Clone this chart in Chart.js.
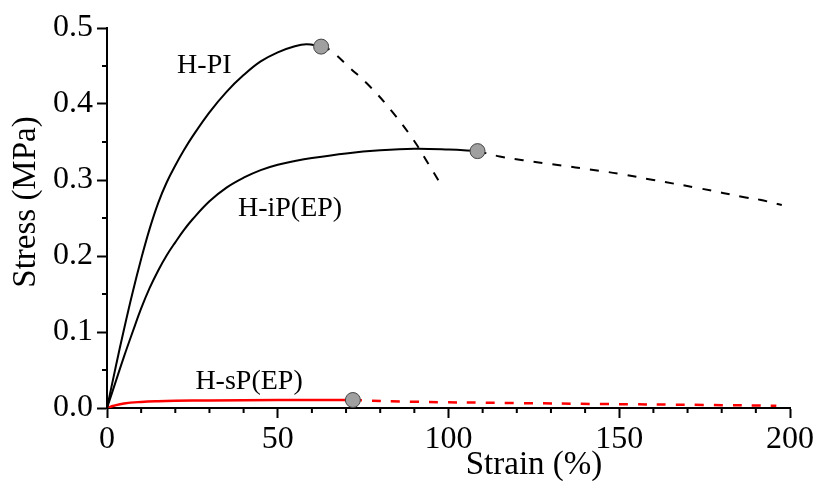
<!DOCTYPE html>
<html>
<head>
<meta charset="utf-8">
<script src="https://cdn.jsdelivr.net/npm/chart.js@4.4.1/dist/chart.umd.min.js"></script>
<style>
  html, body { margin: 0; padding: 0; background: #fff; }
  canvas { display: block; }
</style>
</head>
<body>
<canvas id="stressChart" width="816" height="481"></canvas>
<script>
// H-PI, solid part up to break point, then dashed
var hpiStrain = [0, 2.5, 5, 7.5, 10, 12.5, 15, 17.5, 20, 22.5, 25, 30, 35, 40, 45, 50, 55, 58.5, 62.7];
var hpiStress = [0, 0.053, 0.104, 0.152, 0.196, 0.236, 0.270, 0.297, 0.319, 0.339, 0.357, 0.389, 0.416, 0.438, 0.456, 0.468, 0.476, 0.4785, 0.4755];
var hpiDashStrain = [62.7, 65.3, 71, 77, 83.5, 89.7, 94, 98.2];
var hpiDashStress = [0.4755, 0.471, 0.448, 0.423, 0.39, 0.353, 0.322, 0.291];

// H-iP(EP)
var hipStrain = [0, 2.5, 5, 7.5, 10, 12.5, 15, 17.5, 20, 22.5, 25, 30, 35, 40, 45, 50, 55, 60, 70, 80, 90, 100, 108.5];
var hipStress = [0, 0.034, 0.068, 0.100, 0.131, 0.158, 0.181, 0.201, 0.218, 0.234, 0.248, 0.272, 0.290, 0.303, 0.313, 0.320, 0.325, 0.329, 0.335, 0.339, 0.341, 0.340, 0.338];
var hipDashStrain = [108.5, 115, 121.8, 130, 144.4, 150.2, 160, 173.6, 187, 191.2, 197.6];
var hipDashStress = [0.338, 0.331, 0.326, 0.321, 0.312, 0.308, 0.300, 0.289, 0.277, 0.274, 0.267];

// H-sP(EP)
var hspStrain = [0, 2, 5, 10, 15, 20, 30, 50, 72];
var hspStress = [0, 0.003, 0.006, 0.008, 0.009, 0.0095, 0.010, 0.0105, 0.0105];
var hspDashStrain = [72, 88.7, 120, 144, 175, 196];
var hspDashStress = [0.0105, 0.0083, 0.0065, 0.0053, 0.004, 0.003];

// break points (circles)
var breakStrain = [62.7, 108.5, 72];
var breakStress = [0.4755, 0.338, 0.0105];

// curve labels
var curveNames = ["H-PI", "H-iP(EP)", "H-sP(EP)"];
var labelStrain = [28.5, 53.6, 41.6];
var labelStress = [0.451, 0.2625, 0.035];

var xTicks = [0, 50, 100, 150, 200];
var yTicks = [0.0, 0.1, 0.2, 0.3, 0.4, 0.5];

function pts(xs, ys) {
  return xs.map(function(x, i) { return { x: x, y: ys[i] }; });
}

var serif = "'Liberation Serif', 'Times New Roman', serif";

function lineSet(data, color, dashed, width) {
  return {
    type: 'line',
    data: data,
    borderColor: color,
    borderWidth: width,
    borderDash: dashed ? [9, 10] : [],
    pointRadius: 0,
    fill: false,
    tension: 0.4
  };
}

// minor ticks, axis titles and curve labels
var extras = {
  id: 'extras',
  afterDraw: function(chart) {
    var ctx = chart.ctx;
    var xs = chart.scales.x, ys = chart.scales.y;
    var area = chart.chartArea;
    ctx.save();
    ctx.strokeStyle = '#000';
    ctx.lineWidth = 2;
    ctx.beginPath();
    for (var v = 10; v < 200; v += 10) {
      if (v % 50 === 0) continue;
      var px = xs.getPixelForValue(v);
      ctx.moveTo(px, area.bottom);
      ctx.lineTo(px, area.bottom + 5);
    }
    for (var k = 0; k < 5; k++) {
      var py = ys.getPixelForValue(0.05 + k * 0.1);
      ctx.moveTo(area.left, py);
      ctx.lineTo(area.left - 5, py);
    }
    ctx.stroke();

    ctx.fillStyle = '#000';
    ctx.textAlign = 'center';
    ctx.textBaseline = 'middle';
    ctx.font = '28px ' + serif;
    for (var i = 0; i < curveNames.length; i++) {
      ctx.fillText(curveNames[i], xs.getPixelForValue(labelStrain[i]), ys.getPixelForValue(labelStress[i]));
    }

    ctx.font = '33px ' + serif;
    ctx.fillText('Strain (%)', 534, 465);
    ctx.translate(26, 202);
    ctx.rotate(-Math.PI / 2);
    ctx.fillText('Stress (MPa)', 0, 0);
    ctx.restore();
  }
};

new Chart(document.getElementById('stressChart'), {
  type: 'line',
  data: {
    datasets: [
      {
        type: 'scatter',
        data: pts(breakStrain, breakStress),
        pointRadius: 7.5,
        pointBackgroundColor: '#a0a0a0',
        pointBorderColor: '#444',
        pointBorderWidth: 1,
        showLine: false,
        order: -1
      },
      lineSet(pts(hpiStrain, hpiStress), '#000', false, 2),
      lineSet(pts(hpiDashStrain, hpiDashStress), '#000', true, 2),
      lineSet(pts(hipStrain, hipStress), '#000', false, 2),
      lineSet(pts(hipDashStrain, hipDashStress), '#000', true, 2),
      lineSet(pts(hspStrain, hspStress), '#ff0000', false, 2.5),
      lineSet(pts(hspDashStrain, hspDashStress), '#ff0000', true, 2.5)
    ]
  },
  options: {
    responsive: false,
    animation: false,
    layout: { padding: { left: 0, right: 26, top: 28, bottom: 0 } },
    plugins: { legend: { display: false }, tooltip: { enabled: false } },
    scales: {
      x: {
        type: 'linear',
        min: 0,
        max: 200,
        afterFit: function(s) { s.height = 73; },
        afterBuildTicks: function(s) { s.ticks = xTicks.map(function(v) { return { value: v }; }); },
        ticks: { color: '#000', padding: 2, maxRotation: 0, font: { family: serif, size: 32 } },
        grid: { drawOnChartArea: false, drawTicks: true, tickLength: 10, tickWidth: 2, tickColor: '#000' },
        border: { display: true, color: '#000', width: 2 }
      },
      y: {
        type: 'linear',
        min: 0,
        max: 0.5,
        afterFit: function(s) { s.width = 107; },
        afterBuildTicks: function(s) { s.ticks = yTicks.map(function(v) { return { value: v }; }); },
        ticks: {
          color: '#000',
          padding: 4,
          font: { family: serif, size: 32 },
          callback: function(v) { return Number(v).toFixed(1); }
        },
        grid: { drawOnChartArea: false, drawTicks: true, tickLength: 10, tickWidth: 2, tickColor: '#000' },
        border: { display: true, color: '#000', width: 2 }
      }
    }
  },
  plugins: [extras]
});
</script>
</body>
</html>
